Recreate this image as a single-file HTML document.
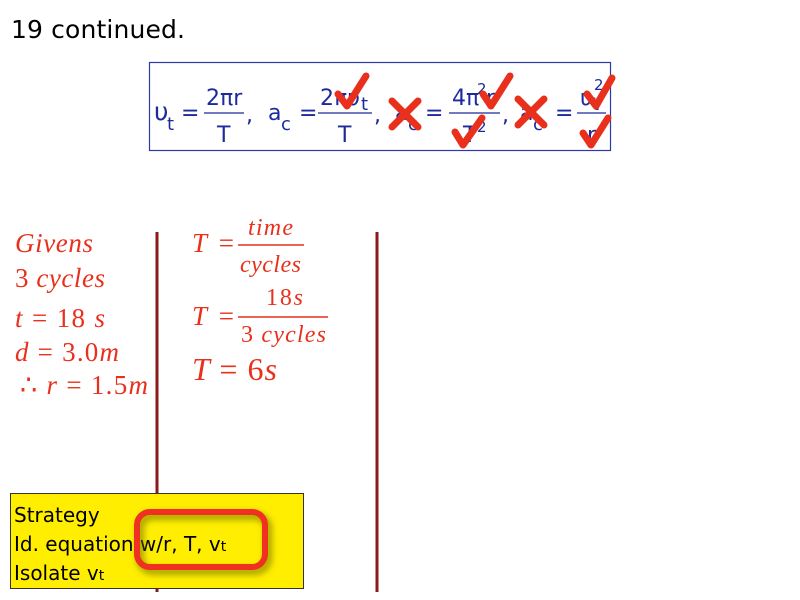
<!DOCTYPE html>
<html><head><meta charset="utf-8"><style>
html,body{margin:0;padding:0;background:#fff;width:800px;height:600px;overflow:hidden}
svg{display:block}
.eq{font-family:"DejaVu Sans","Liberation Sans",sans-serif;fill:#1c2a9c;font-size:22px}
.rd{font-family:"Liberation Serif",serif;fill:#e8301c;font-style:italic;font-size:27px}
.up{font-style:normal}
.bk{font-family:"DejaVu Sans","Liberation Sans",sans-serif;fill:#000;font-size:20px}
</style></head><body>
<svg width="800" height="600" viewBox="0 0 800 600">
<defs><filter id="bl" x="-20%" y="-20%" width="140%" height="140%"><feGaussianBlur stdDeviation="3"/></filter></defs>
<text x="11" y="38" font-family="'DejaVu Sans','Liberation Sans',sans-serif" font-size="25" fill="#000" textLength="174">19 continued.</text>
<rect x="149.5" y="62.5" width="461" height="88" fill="#fff" stroke="#2a3aa8" stroke-width="1.2"/>
<g class="eq">
<text x="154" y="120" font-size="25">υ</text><text x="167" y="130" font-size="18">t</text>
<text x="181" y="120">=</text>
<text x="206" y="105">2πr</text><line x1="204" y1="113" x2="244" y2="113" stroke="#1c2a9c" stroke-width="1.3"/><text x="217" y="142">T</text>
<text x="246" y="122">,</text>
<text x="268" y="120">a</text><text x="281" y="130" font-size="18">c</text>
<text x="299" y="120">=</text>
<text x="320" y="105">2πυ</text><text x="361" y="110" font-size="18">t</text><line x1="318" y1="113" x2="372" y2="113" stroke="#1c2a9c" stroke-width="1.3"/><text x="338" y="142">T</text>
<text x="374" y="122">,</text>
<text x="395" y="120">a</text><text x="408" y="130" font-size="18">c</text>
<text x="425" y="120">=</text>
<text x="452" y="105">4π</text><text x="477" y="94" font-size="15">2</text><text x="486" y="105">r</text><line x1="449" y1="113" x2="500" y2="113" stroke="#1c2a9c" stroke-width="1.3"/><text x="463" y="142">T</text><text x="477" y="132" font-size="15">2</text>
<text x="502" y="122">,</text>
<text x="520" y="120">a</text><text x="533" y="130" font-size="18">c</text>
<text x="555" y="120">=</text>
<text x="580" y="105">υ</text><text x="592" y="110" font-size="18">t</text><text x="594" y="90" font-size="15">2</text><line x1="577" y1="113" x2="606" y2="113" stroke="#1c2a9c" stroke-width="1.3"/><text x="587" y="142">r</text>
</g>
<g stroke="#e8301c" stroke-width="7" fill="none" stroke-linecap="round" stroke-linejoin="round">
<polyline points="338,94 347,106 366,76"/>
<polyline points="483,94 491,106 510,76"/>
<polyline points="455,132 463,145 482,118"/>
<polyline points="587,94 596,106 612,78"/>
<polyline points="583,133 591,145 608,118"/>
<line x1="392" y1="101" x2="418" y2="127"/><line x1="418" y1="101" x2="392" y2="127"/>
<line x1="518" y1="99" x2="544" y2="125"/><line x1="544" y1="99" x2="518" y2="125"/>
</g>
<line x1="157" y1="232" x2="157" y2="592" stroke="#8b1a1a" stroke-width="3"/>
<line x1="377" y1="232" x2="377" y2="592" stroke="#8b1a1a" stroke-width="3"/>
<g class="rd">
<text x="15" y="252" textLength="78">Givens</text>
<text x="15" y="287" textLength="90"><tspan class="up">3</tspan> cycles</text>
<text x="15" y="327" textLength="90">t <tspan class="up">= 18</tspan> s</text>
<text x="15" y="361" textLength="104">d <tspan class="up">= 3.0</tspan>m</text>
<text x="20" y="394" textLength="128"><tspan class="up">∴</tspan> r <tspan class="up">= 1.5</tspan>m</text>
<text x="192" y="252" textLength="42">T <tspan class="up">=</tspan></text>
<text x="248" y="235" font-size="24" textLength="45">time</text>
<line x1="238" y1="245" x2="304" y2="245" stroke="#e8301c" stroke-width="1.5"/>
<text x="240" y="272" font-size="24" textLength="61">cycles</text>
<text x="192" y="325" textLength="42">T <tspan class="up">=</tspan></text>
<text x="266" y="305" class="up" font-size="24" textLength="37">18<tspan font-style="italic">s</tspan></text>
<line x1="238" y1="317" x2="328" y2="317" stroke="#e8301c" stroke-width="1.5"/>
<text x="241" y="342" font-size="24" textLength="85"><tspan class="up">3</tspan> cycles</text>
<text x="192" y="380" font-size="32" textLength="85">T <tspan class="up">= 6</tspan>s</text>
</g>
<rect x="10.5" y="493.5" width="293" height="95" fill="#ffee00" stroke="#333" stroke-width="1"/>
<g class="bk">
<text x="14" y="522">Strategy</text>
<text x="14" y="551">Id. equation w/r, T, v<tspan font-size="14">t</tspan></text>
<text x="14" y="580">Isolate v<tspan font-size="14">t</tspan></text>
</g>
<rect x="140" y="516" width="128" height="55" rx="13" fill="none" stroke="#6b6b00" stroke-opacity="0.5" stroke-width="9" filter="url(#bl)"/>
<rect x="137" y="512" width="128" height="55" rx="13" fill="none" stroke="#f03020" stroke-width="6"/>
</svg>
</body></html>
